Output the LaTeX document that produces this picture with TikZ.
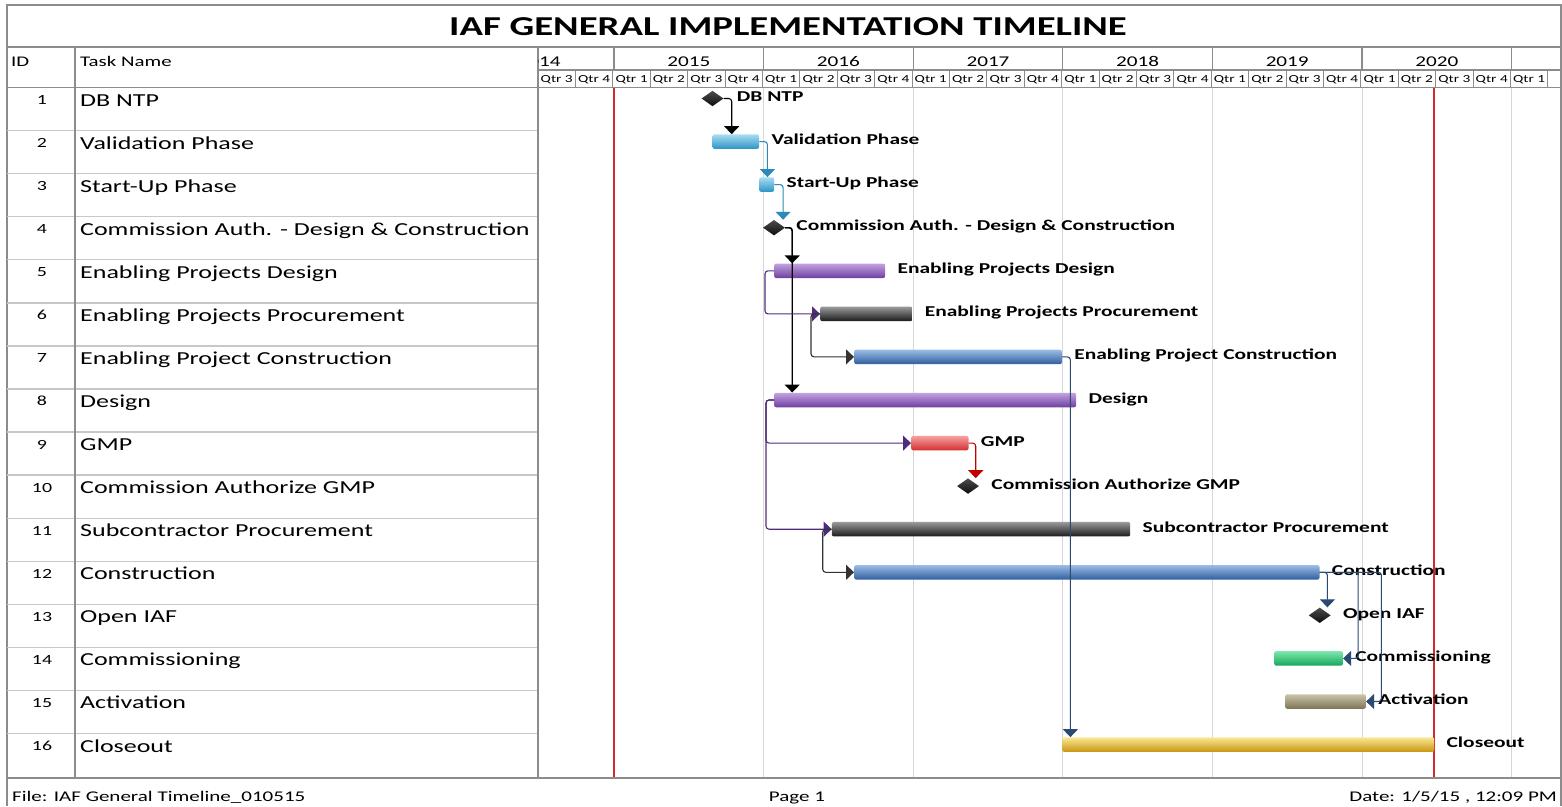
\documentclass[tikz,border=0pt]{standalone}
\usepackage{fontspec}
\setmainfont[FakeStretch=1.42]{Carlito}
\usetikzlibrary{shapes.geometric, arrows.meta, positioning}

\definecolor{rulegray}{HTML}{8C8C8C}
\definecolor{rowgray}{HTML}{C8C8C8}
\definecolor{gridgray}{HTML}{D6D6D6}
\definecolor{todayred}{HTML}{D42A2A}
\definecolor{cyantop}{HTML}{A8DDF2}
\definecolor{cyanbot}{HTML}{2C93C6}
\definecolor{purptop}{HTML}{C3A2E0}
\definecolor{purpbot}{HTML}{6E3FA0}
\definecolor{blacktop}{HTML}{9A9A9A}
\definecolor{blackbot}{HTML}{1A1A1A}
\definecolor{bluetop}{HTML}{9CBDE6}
\definecolor{bluebot}{HTML}{2F5E9E}
\definecolor{redtop}{HTML}{F7A0A0}
\definecolor{redbot}{HTML}{D42F2F}
\definecolor{greentop}{HTML}{7FE8AE}
\definecolor{greenbot}{HTML}{14A55A}
\definecolor{olivetop}{HTML}{CBC4A8}
\definecolor{olivebot}{HTML}{7D7456}
\definecolor{goldtop}{HTML}{FBE796}
\definecolor{goldbot}{HTML}{C8960E}
\definecolor{teallink}{HTML}{2A8BBA}
\definecolor{purplink}{HTML}{4E2C7C}
\definecolor{navylink}{HTML}{2B4A72}
\definecolor{redlink}{HTML}{C00000}

\tikzstyle{bar} = [rectangle, rounded corners=2pt, minimum height=14.5pt, inner sep=0pt]
\tikzstyle{cyanbar} = [bar, top color=cyantop, bottom color=cyanbot]
\tikzstyle{purplebar} = [bar, top color=purptop, bottom color=purpbot]
\tikzstyle{blackbar} = [bar, top color=blacktop, bottom color=blackbot]
\tikzstyle{bluebar} = [bar, top color=bluetop, bottom color=bluebot]
\tikzstyle{redbar} = [bar, top color=redtop, bottom color=redbot]
\tikzstyle{greenbar} = [bar, top color=greentop, bottom color=greenbot]
\tikzstyle{olivebar} = [bar, top color=olivetop, bottom color=olivebot]
\tikzstyle{goldbar} = [bar, top color=goldtop, bottom color=goldbot]
\tikzstyle{milestone} = [diamond, minimum width=22pt, minimum height=15.5pt,
    inner sep=0pt, top color=black!70, bottom color=black!95]
\tikzstyle{tag} = [font=\fontsize{15.1}{16}\selectfont\bfseries, inner sep=0pt]
\tikzstyle{task} = [font=\fontsize{18.3}{20}\selectfont, inner sep=0pt, anchor=base west]
\tikzstyle{num} = [font=\fontsize{14}{16}\selectfont, inner sep=0pt, anchor=base]
\tikzstyle{head} = [font=\fontsize{14.7}{16}\selectfont, inner sep=0pt, anchor=base west]
\tikzstyle{yearlbl} = [font=\fontsize{14.9}{16}\selectfont, inner sep=0pt, anchor=base]
\tikzstyle{qtr} = [font=\fontsize{10.8}{12}\selectfont, inner sep=0pt, anchor=base west]
\tikzstyle{foot} = [font=\fontsize{14.8}{16}\selectfont, inner sep=0pt]
\tikzstyle{link} = [draw, line width=1.1pt, rounded corners=3pt,
    -{Triangle[width=15pt,length=8pt]}]
\tikzstyle{tablerule} = [draw=rulegray, line width=1.2pt]
\tikzstyle{rowrule} = [draw=rowgray, line width=1.4pt]
\tikzstyle{yeargrid} = [draw=gridgray, line width=1pt]
\tikzstyle{todayline} = [draw=todayred, line width=2pt]

\begin{document}
\begin{tikzpicture}[x=1pt, y=-1pt]
        \useasboundingbox (0,0) rectangle (1562,806);
        % Frame, title and table
        \draw [tablerule] (7,806) -- (7,5) -- (1561,5) -- (1561,806);
        \draw [tablerule] (7,47) -- (1561,47);
        \node [font=\fontsize{27.3}{30}\selectfont\bfseries, inner sep=0pt] (title) at (788,27)
            {IAF GENERAL IMPLEMENTATION TIMELINE};
        \node [head] (idhead) at (11,66) {ID};
        \node [head] (taskhead) at (80,66) {Task Name};
        \foreach \k in {1,...,15}
            \draw [rowrule] (7,87.5+43.07*\k) -- (538,87.5+43.07*\k);
        \draw [tablerule] (7,87.5) -- (1561,87.5);
        \draw [tablerule] (75,47) -- (75,778);
        \draw [tablerule] (538,47) -- (538,778);
        % Time scale
        \draw [tablerule] (538,70) -- (1561,70);
        \foreach \n in {0,...,6}
            \draw [tablerule] (614+149.6*\n,47) -- ++(0,23);
        \foreach \k in {1,...,27}
            \draw [draw=rulegray, line width=0.8pt] (538+37.4*\k,70) -- ++(0,17.5);
        \begin{scope}
            \clip (538,47) rectangle (1561,70);
            \foreach \yr [count=\n from 0] in {2014,...,2020}
                \node [yearlbl] (year\yr) at (539.2+149.6*\n,66) {\yr};
        \end{scope}
        \foreach \k in {0,...,26} {
            \pgfmathtruncatemacro{\q}{mod(\k+2,4)+1}
            \node [qtr] (qtr\k) at (540.5+37.4*\k,82.5) {Qtr \q};
        }
        \foreach \n in {1,...,6}
            \draw [yeargrid] (614+149.6*\n,87.5) -- (614+149.6*\n,778);
        \draw [todayline] (614,87.5) -- (614,778);
        \draw [todayline] (1434,87.5) -- (1434,778);
        % Task rows
        \foreach \id/\name in {1/DB NTP, 2/Validation Phase, 3/Start-Up Phase,
                4/Commission Auth. - Design \& Construction, 5/Enabling Projects Design,
                6/Enabling Projects Procurement, 7/Enabling Project Construction,
                8/Design, 9/GMP, 10/Commission Authorize GMP, 11/Subcontractor Procurement,
                12/Construction, 13/Open IAF, 14/Commissioning, 15/Activation, 16/Closeout} {
            \pgfmathsetmacro{\yy}{98.5+43.07*(\id-1)}
            \node [num] (id\id) at (42,\yy+6) {\id};
            \node [task] (task\id) at (80,\yy+7.5) {\name};
        }
        % Place bars
        \node [milestone] (dbntp) at (712.5,98.5) {};
        \node [cyanbar, minimum width=46.7pt, anchor=west] (valid) at (712.3,141.6) {};
        \node [cyanbar, minimum width=15pt, anchor=west] (startup) at (759,184.6) {};
        \node [milestone] (commauth) at (774,227.7) {};
        \node [purplebar, minimum width=111pt, anchor=west] (epdesign) at (774,270.8) {};
        \node [blackbar, minimum width=92.3pt, anchor=west] (epproc) at (820,313.9) {};
        \node [bluebar, minimum width=207.7pt, anchor=west] (epcons) at (854,356.9) {};
        \node [purplebar, minimum width=302pt, anchor=west] (design) at (774,400) {};
        \node [redbar, minimum width=57.3pt, anchor=west] (gmp) at (911,443.1) {};
        \node [milestone] (commgmp) at (968,486.1) {};
        \node [blackbar, minimum width=298.3pt, anchor=west] (subproc) at (831.7,529.2) {};
        \node [bluebar, minimum width=465.3pt, anchor=west] (cons) at (854,572.3) {};
        \node [milestone] (openiaf) at (1319.7,615.3) {};
        \node [greenbar, minimum width=68.7pt, anchor=west] (commiss) at (1274,658.4) {};
        \node [olivebar, minimum width=80.7pt, anchor=west] (activ) at (1285,701.5) {};
        \node [goldbar, minimum width=372pt, anchor=west] (closeout) at (1062,744.6) {};
        % Bar labels
        \node [tag, anchor=base west] (dbntp-t) at ([xshift=13pt,yshift=-3pt]dbntp.east) {DB NTP};
        \node [tag, base right=12pt of valid, yshift=-3pt] (valid-t) {Validation Phase};
        \node [tag, base right=12pt of startup, yshift=-3pt] (startup-t) {Start-Up Phase};
        \node [tag, anchor=base west] (commauth-t) at ([xshift=11pt,yshift=-3pt]commauth.east)
            {Commission Auth. - Design \& Construction};
        \node [tag, base right=12pt of epdesign, yshift=-3pt] (epdesign-t) {Enabling Projects Design};
        \node [tag, base right=12pt of epproc, yshift=-3pt] (epproc-t) {Enabling Projects Procurement};
        \node [tag, base right=12pt of epcons, yshift=-3pt] (epcons-t) {Enabling Project Construction};
        \node [tag, base right=12pt of design, yshift=-3pt] (design-t) {Design};
        \node [tag, base right=12pt of gmp, yshift=-3pt] (gmp-t) {GMP};
        \node [tag, anchor=base west] (commgmp-t) at ([xshift=12pt,yshift=-3pt]commgmp.east)
            {Commission Authorize GMP};
        \node [tag, base right=12pt of subproc, yshift=-3pt] (subproc-t) {Subcontractor Procurement};
        \node [tag, base right=12pt of cons, yshift=-3pt] (cons-t) {Construction};
        \node [tag, anchor=base west] (openiaf-t) at ([xshift=12pt,yshift=-3pt]openiaf.east) {Open IAF};
        \node [tag, base right=12pt of commiss, yshift=-3pt] (commiss-t) {Commissioning};
        \node [tag, base right=12pt of activ, yshift=-3pt] (activ-t) {Activation};
        \node [tag, base right=12pt of closeout, yshift=-3pt] (closeout-t) {Closeout};
        % Draw dependencies
        \path [link] (dbntp.east) -- ++(8,0) coordinate (d1) -- (d1 |- valid.north);
        \path [link, teallink] (valid.east) -- ++(8,0) coordinate (d2) -- (d2 |- startup.north);
        \path [link, teallink] (startup.east) -- ++(8.7,0) coordinate (d3) -- (d3 |- commauth.north);
        \path [link, line width=1.4pt] (commauth.east) -- ++(7,0) coordinate (d4) -- (d4 |- epdesign.north);
        \path [link, line width=1.4pt] (commauth.east) -- ++(7,0) -- (d4 |- design.north);
        \path [link, purplink] (epdesign.west) -- ++(-9,0) |- (epproc.west);
        \path [link, black!80] (epproc.west) -- ++(-9,0) |- (epcons.west);
        \path [link, navylink] (epcons.east) -- ++(8.3,0) coordinate (d7) -- (d7 |- closeout.north);
        \path [link, purplink] (design.west) -- ++(-8,0) |- (gmp.west);
        \path [link, purplink] (design.west) -- ++(-8,0) |- (subproc.west);
        \path [link, redlink] (gmp.east) -- ++(7,0) coordinate (d9) -- (d9 |- commgmp.north);
        \path [link, black!80] (subproc.west) -- ++(-9,0) |- (cons.west);
        \path [link, navylink] (cons.east) -- ++(7.7,0) coordinate (d12) -- (d12 |- openiaf.north);
        \path [link, navylink] (cons.east) -- ++(38.4,0) |- (commiss.east);
        \path [link, navylink] (cons.east) -- ++(61.7,0) |- (activ.east);
        % Footer
        \draw [tablerule, line width=2pt] (7,778) -- (1561,778);
        \node [foot, anchor=base west] (file) at (12,801) {File: IAF General Timeline\_010515};
        \node [foot, anchor=base] (page) at (797,801) {Page 1};
        \node [foot, anchor=base east] (date) at (1557,801) {Date: 1/5/15 , 12:09 PM};
    \end{tikzpicture}
\end{document}
